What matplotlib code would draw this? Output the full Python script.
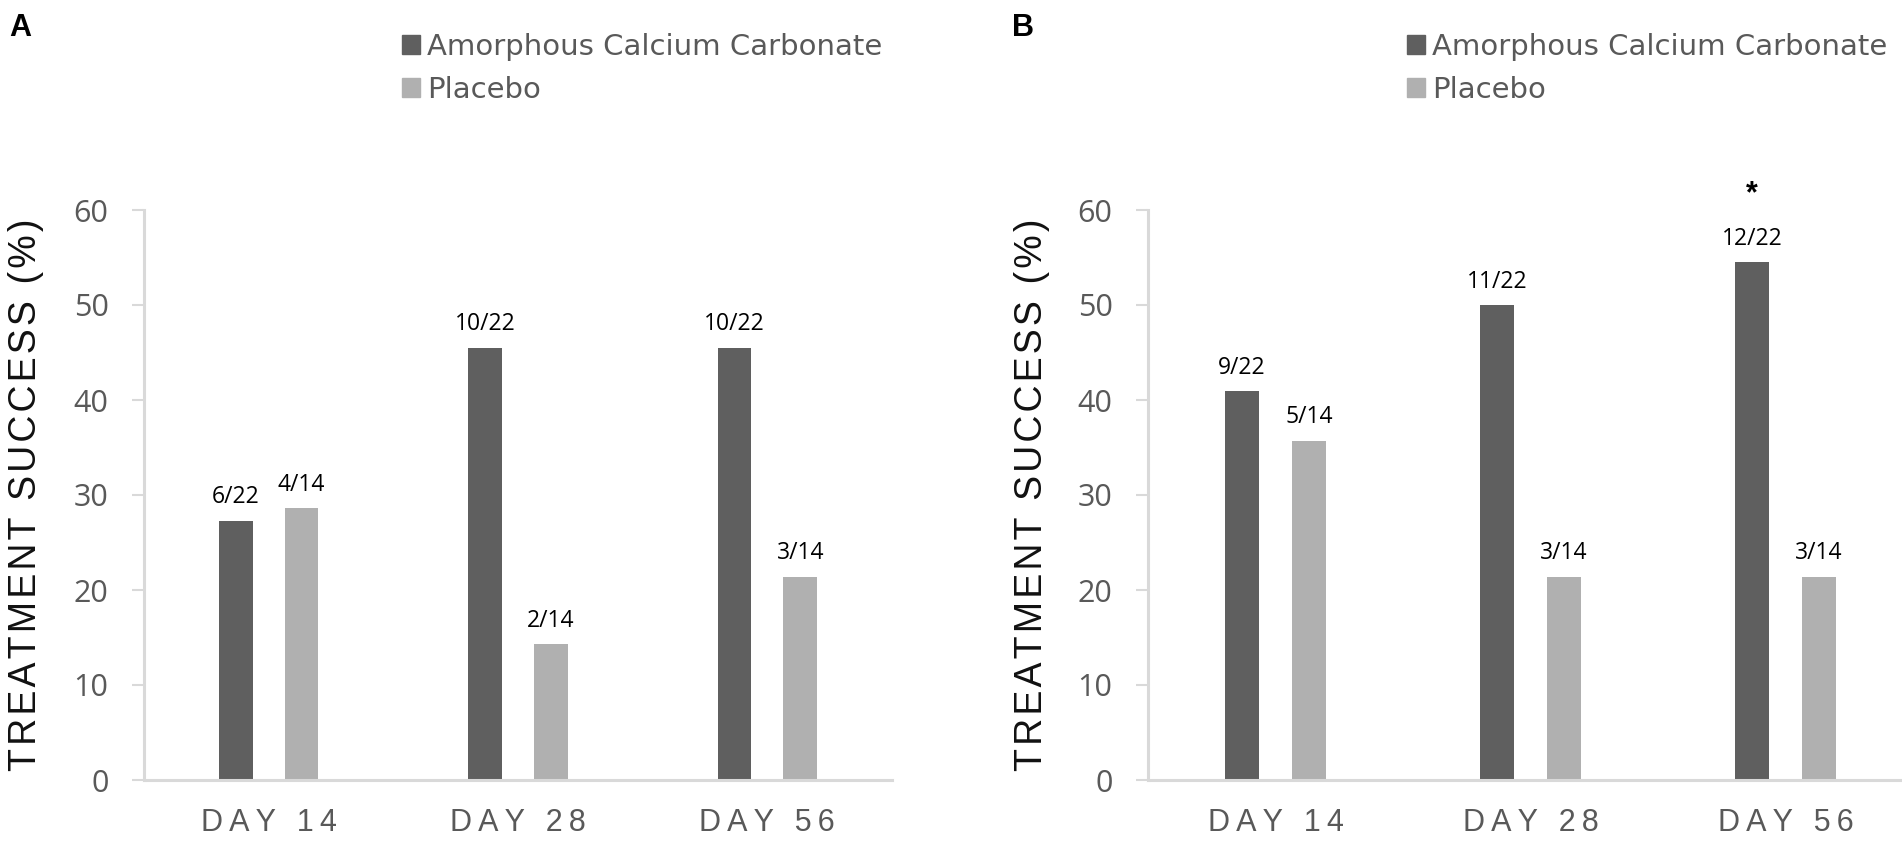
import matplotlib
matplotlib.use("Agg")
import matplotlib.pyplot as plt
import matplotlib.patches as mpatches
import numpy as np

# Data
days = ["DAY 14", "DAY 28", "DAY 56"]
acc_a = [27.3, 45.5, 45.5]
placebo_a = [28.6, 14.3, 21.4]
acc_a_labels = ["6/22", "10/22", "10/22"]
placebo_a_labels = ["4/14", "2/14", "3/14"]

acc_b = [40.9, 50.0, 54.5]
placebo_b = [35.7, 21.4, 21.4]
acc_b_labels = ["9/22", "11/22", "12/22"]
placebo_b_labels = ["5/14", "3/14", "3/14"]

dark = "#5f5f5f"
light = "#b0b0b0"
spine_col = "#d9d9d9"
tick_col = "#595959"

plt.rcParams["font.family"] = ["Liberation Sans", "DejaVu Sans"]

W, H = 1902, 841


def spaced(s, sep="\u2009"):
    # letter spacing like the original labels
    return sep.join(s)


def draw_panel(fig, rect, acc, plc, acc_lab, plc_lab, letter, letter_x,
               leg_x, ylab_x, star=None):
    ax = fig.add_axes(rect)
    x = np.arange(len(days))
    w = 0.135
    off = 0.132
    ax.bar(x - off, acc, w, color=dark)
    ax.bar(x + off, plc, w, color=light)
    for xi, v, lab in zip(x - off, acc, acc_lab):
        ax.text(xi, v + 1.2, lab, ha="center", va="bottom", fontsize=16.5,
                family=["Open Sans", "DejaVu Sans"])
    for xi, v, lab in zip(x + off, plc, plc_lab):
        ax.text(xi, v + 1.2, lab, ha="center", va="bottom", fontsize=16.5,
                family=["Open Sans", "DejaVu Sans"])
    if star is not None:
        ax.text(x[star] - off, acc[star] + 5.6, "*", ha="center", va="bottom",
                fontsize=22, fontweight="bold")

    ax.set_xlim(-0.5, 2.5)
    ax.set_ylim(0, 60)
    ax.set_yticks(range(0, 61, 10))
    ax.set_xticks(x)
    ax.set_xticklabels([spaced(d) for d in days], fontsize=22, color=tick_col)
    ax.tick_params(axis="x", length=0, pad=20)
    ax.tick_params(axis="y", length=8.6, width=1.5, color=spine_col,
                   labelsize=22, labelcolor=tick_col, pad=17)
    for lab in ax.get_yticklabels():
        lab.set_family(["Open Sans", "DejaVu Sans"])
    for s in ["top", "right"]:
        ax.spines[s].set_visible(False)
    for s in ["left", "bottom"]:
        ax.spines[s].set_color(spine_col)
        ax.spines[s].set_linewidth(2.2)

    fig.text(ylab_x / W, 0.5 - (495 - 841 / 2) / H,
             spaced("TREATMENT SUCCESS (%)", "\u200a"), rotation=90,
             ha="center", va="center", fontsize=27, color="#111111")

    fig.text(letter_x / W, 1 - 13 / H, letter, fontsize=22, fontweight="bold",
             va="top", ha="left",
             family=["Liberation Sans Narrow", "Liberation Sans"])
    handles = [mpatches.Patch(color=dark, label="Amorphous Calcium Carbonate"),
               mpatches.Patch(color=light, label="Placebo")]
    leg = fig.legend(handles=handles, loc="upper left",
                     bbox_to_anchor=(leg_x / W, 1 - 33 / H), frameon=False,
                     prop={"family": ["DejaVu Sans"], "size": 21},
                     handlelength=0.6, handleheight=0.6,
                     handletextpad=0.25, labelspacing=0.5,
                     borderaxespad=0, borderpad=0)
    for t in leg.get_texts():
        t.set_color(tick_col)
    return ax


fig = plt.figure(figsize=(W / 100, H / 100), dpi=100)
draw_panel(fig, [144 / W, 61 / H, 748 / W, 570 / H], acc_a, placebo_a,
           acc_a_labels, placebo_a_labels, "A", 9, 402, 26)
draw_panel(fig, [1148 / W, 61 / H, 765 / W, 570 / H], acc_b, placebo_b,
           acc_b_labels, placebo_b_labels, "B", 1012, 1407, 1032, star=2)

fig.savefig("out.png", dpi=100, facecolor="white")
